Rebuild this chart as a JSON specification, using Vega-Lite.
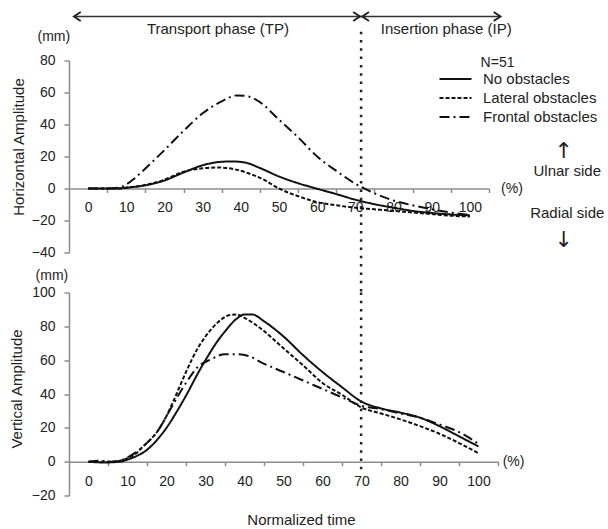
{
"$schema": "https://vega.github.io/schema/vega-lite/v6.json",
"padding": {"left": 9, "top": 7.5, "right": 0, "bottom": 0},
"background": "white",
"config": {"font": "Liberation Sans", "view": {"stroke": null}, "axis": {"grid": false, "domainColor": "#8c8c8c", "tickColor": "#8c8c8c", "domainWidth": 1.5, "tickWidth": 1.5, "labelColor": "#222", "labelFontSize": 14, "labelFont": "Liberation Sans", "titleFont": "Liberation Sans", "titleFontSize": 15, "titleFontWeight": "normal", "titleColor": "#222"}},
"datasets": {
"horiz": [
{"series":"No obstacles","t":0,"v":0},{"series":"No obstacles","t":5,"v":0},{"series":"No obstacles","t":8,"v":0},{"series":"No obstacles","t":10,"v":0.5},{"series":"No obstacles","t":15,"v":2},{"series":"No obstacles","t":20,"v":5},{"series":"No obstacles","t":25,"v":10},{"series":"No obstacles","t":30,"v":14.5},{"series":"No obstacles","t":35,"v":16.7},{"series":"No obstacles","t":38,"v":16.9},{"series":"No obstacles","t":41,"v":16.3},{"series":"No obstacles","t":45,"v":12.8},{"series":"No obstacles","t":50,"v":7.5},{"series":"No obstacles","t":55,"v":3.3},{"series":"No obstacles","t":59,"v":0.5},{"series":"No obstacles","t":65,"v":-3.5},{"series":"No obstacles","t":70,"v":-7},{"series":"No obstacles","t":75,"v":-9.8},{"series":"No obstacles","t":80,"v":-12},{"series":"No obstacles","t":85,"v":-14},{"series":"No obstacles","t":90,"v":-15.3},{"series":"No obstacles","t":95,"v":-16.2},{"series":"No obstacles","t":100,"v":-16.8},
{"series":"Lateral obstacles","t":0,"v":0},{"series":"Lateral obstacles","t":5,"v":0},{"series":"Lateral obstacles","t":8,"v":0},{"series":"Lateral obstacles","t":10,"v":0.5},{"series":"Lateral obstacles","t":15,"v":2.2},{"series":"Lateral obstacles","t":20,"v":5.5},{"series":"Lateral obstacles","t":25,"v":10.5},{"series":"Lateral obstacles","t":30,"v":12.6},{"series":"Lateral obstacles","t":34,"v":13.1},{"series":"Lateral obstacles","t":38,"v":12.2},{"series":"Lateral obstacles","t":42,"v":9.5},{"series":"Lateral obstacles","t":46,"v":5.5},{"series":"Lateral obstacles","t":50,"v":0},{"series":"Lateral obstacles","t":55,"v":-4.8},{"series":"Lateral obstacles","t":60,"v":-8.5},{"series":"Lateral obstacles","t":65,"v":-10.5},{"series":"Lateral obstacles","t":70,"v":-12},{"series":"Lateral obstacles","t":75,"v":-13},{"series":"Lateral obstacles","t":80,"v":-14},{"series":"Lateral obstacles","t":85,"v":-15},{"series":"Lateral obstacles","t":90,"v":-16},{"series":"Lateral obstacles","t":95,"v":-17},{"series":"Lateral obstacles","t":100,"v":-17.5},
{"series":"Frontal obstacles","t":0,"v":0},{"series":"Frontal obstacles","t":5,"v":0},{"series":"Frontal obstacles","t":8,"v":0.5},{"series":"Frontal obstacles","t":10,"v":2.5},{"series":"Frontal obstacles","t":12,"v":6},{"series":"Frontal obstacles","t":15,"v":12.5},{"series":"Frontal obstacles","t":20,"v":24},{"series":"Frontal obstacles","t":25,"v":36},{"series":"Frontal obstacles","t":30,"v":47},{"series":"Frontal obstacles","t":35,"v":54.5},{"series":"Frontal obstacles","t":39,"v":58.2},{"series":"Frontal obstacles","t":42,"v":57.5},{"series":"Frontal obstacles","t":45,"v":54},{"series":"Frontal obstacles","t":50,"v":43},{"series":"Frontal obstacles","t":55,"v":32},{"series":"Frontal obstacles","t":60,"v":20},{"series":"Frontal obstacles","t":65,"v":11},{"series":"Frontal obstacles","t":70,"v":3},{"series":"Frontal obstacles","t":75,"v":-3},{"series":"Frontal obstacles","t":80,"v":-7.5},{"series":"Frontal obstacles","t":85,"v":-10.5},{"series":"Frontal obstacles","t":90,"v":-13},{"series":"Frontal obstacles","t":95,"v":-15},{"series":"Frontal obstacles","t":100,"v":-16.5}
],
"vert": [
{"series":"No obstacles","t":0,"v":0},{"series":"No obstacles","t":4,"v":-0.5},{"series":"No obstacles","t":8,"v":0},{"series":"No obstacles","t":10,"v":1.2},{"series":"No obstacles","t":12,"v":3},{"series":"No obstacles","t":15,"v":7},{"series":"No obstacles","t":18,"v":14},{"series":"No obstacles","t":20,"v":20},{"series":"No obstacles","t":23,"v":31},{"series":"No obstacles","t":25,"v":39},{"series":"No obstacles","t":28,"v":52},{"series":"No obstacles","t":30,"v":60},{"series":"No obstacles","t":33,"v":71},{"series":"No obstacles","t":35,"v":77},{"series":"No obstacles","t":38,"v":84.5},{"series":"No obstacles","t":40,"v":87},{"series":"No obstacles","t":42,"v":87},{"series":"No obstacles","t":45,"v":83},{"series":"No obstacles","t":50,"v":74},{"series":"No obstacles","t":55,"v":63},{"series":"No obstacles","t":60,"v":53},{"series":"No obstacles","t":65,"v":44},{"series":"No obstacles","t":70,"v":35.5},{"series":"No obstacles","t":75,"v":31.5},{"series":"No obstacles","t":80,"v":29},{"series":"No obstacles","t":85,"v":26},{"series":"No obstacles","t":90,"v":21},{"series":"No obstacles","t":95,"v":15},{"series":"No obstacles","t":100,"v":9},
{"series":"Lateral obstacles","t":0,"v":0},{"series":"Lateral obstacles","t":5,"v":0},{"series":"Lateral obstacles","t":8,"v":0.5},{"series":"Lateral obstacles","t":10,"v":2},{"series":"Lateral obstacles","t":12,"v":4.5},{"series":"Lateral obstacles","t":14,"v":9},{"series":"Lateral obstacles","t":18,"v":19},{"series":"Lateral obstacles","t":20,"v":27},{"series":"Lateral obstacles","t":22,"v":37},{"series":"Lateral obstacles","t":25,"v":53},{"series":"Lateral obstacles","t":28,"v":67},{"series":"Lateral obstacles","t":30,"v":74},{"series":"Lateral obstacles","t":33,"v":82},{"series":"Lateral obstacles","t":36,"v":86.5},{"series":"Lateral obstacles","t":38,"v":87},{"series":"Lateral obstacles","t":40,"v":85},{"series":"Lateral obstacles","t":44,"v":79},{"series":"Lateral obstacles","t":50,"v":67},{"series":"Lateral obstacles","t":55,"v":57},{"series":"Lateral obstacles","t":60,"v":46.5},{"series":"Lateral obstacles","t":65,"v":39.5},{"series":"Lateral obstacles","t":70,"v":32},{"series":"Lateral obstacles","t":75,"v":28.5},{"series":"Lateral obstacles","t":80,"v":25},{"series":"Lateral obstacles","t":85,"v":21},{"series":"Lateral obstacles","t":90,"v":16.5},{"series":"Lateral obstacles","t":95,"v":11},{"series":"Lateral obstacles","t":100,"v":5},
{"series":"Frontal obstacles","t":0,"v":0},{"series":"Frontal obstacles","t":3,"v":0.5},{"series":"Frontal obstacles","t":6,"v":0},{"series":"Frontal obstacles","t":8,"v":0.5},{"series":"Frontal obstacles","t":10,"v":2.5},{"series":"Frontal obstacles","t":14,"v":9},{"series":"Frontal obstacles","t":18,"v":19},{"series":"Frontal obstacles","t":20,"v":27},{"series":"Frontal obstacles","t":22,"v":35},{"series":"Frontal obstacles","t":24,"v":43},{"series":"Frontal obstacles","t":26,"v":50},{"series":"Frontal obstacles","t":28,"v":56},{"series":"Frontal obstacles","t":31,"v":60},{"series":"Frontal obstacles","t":35,"v":63.5},{"series":"Frontal obstacles","t":38,"v":63.5},{"series":"Frontal obstacles","t":41,"v":62.5},{"series":"Frontal obstacles","t":44,"v":59},{"series":"Frontal obstacles","t":50,"v":53},{"series":"Frontal obstacles","t":55,"v":48},{"series":"Frontal obstacles","t":60,"v":43},{"series":"Frontal obstacles","t":65,"v":38},{"series":"Frontal obstacles","t":70,"v":33},{"series":"Frontal obstacles","t":75,"v":31},{"series":"Frontal obstacles","t":80,"v":28.5},{"series":"Frontal obstacles","t":85,"v":26},{"series":"Frontal obstacles","t":90,"v":22},{"series":"Frontal obstacles","t":95,"v":17.5},{"series":"Frontal obstacles","t":100,"v":10.5}
],
"annTop": [
{"kind":"vline","t":71.5,"v":98,"v2":-65},
{"kind":"arrow","t":-3.7,"t2":71.5,"v":107.5},
{"kind":"arrow","t":71.5,"t2":108,"v":107.5},
{"kind":"headL","t":-3.7,"v":107.5},
{"kind":"headR","t":71.2,"v":107.5},
{"kind":"headL","t":71.8,"v":107.5},
{"kind":"headR","t":108,"v":107.5},
{"kind":"label","t":34,"v":99.4,"label":"Transport phase (TP)"},
{"kind":"label","t":93.8,"v":99.4,"label":"Insertion phase (IP)"},
{"kind":"label","t":125.5,"v":10.8,"label":"Ulnar side"},
{"kind":"label","t":125.5,"v":-15.2,"label":"Radial side"},
{"kind":"small","t":111,"v":0,"label":"(%)"},
{"kind":"glyph","t":124.6,"v":23.7,"label":"↑"},
{"kind":"glyph","t":124.6,"v":-32,"label":"↓"},
{"kind":"mm","t":-4.7,"v":95,"label":"(mm)"},
{"kind":"nlabel","t":102.8,"v":78.7,"label":"N=51"}
],
"annBottom": [
{"kind":"vline","t":69.9,"v":100,"v2":-7.5},
{"kind":"small","t":109,"v":0,"label":"(%)"},
{"kind":"mm","t":-5.2,"v":109.5,"label":"(mm)"}
]
},
"spacing": 40,
"bounds": "flush",
"resolve": {"legend": {"strokeDash": "independent"}},
"vconcat": [
{
"width": 420, "height": 192,
"encoding": {
 "x": {"field": "t", "type": "quantitative", "scale": {"domain": [-5, 105], "nice": false, "zero": false},
  "axis": {"orient": "bottom", "offset": -64, "values": [0,10,20,30,40,50,60,70,80,90,100], "tickOffset": 19.09, "labelOffset": -19.09, "tickSize": 4, "labelPadding": 8, "labelFlush": false, "labelOverlap": false, "title": null}},
 "y": {"field": "v", "type": "quantitative", "scale": {"domain": [-40, 80], "nice": false, "zero": false},
  "axis": {"values": [-40,-20,0,20,40,60,80], "tickSize": 5, "labelPadding": 9, "title": "Horizontal Amplitude", "titleAngle": -90, "titleX": -51, "titleY": 86, "titleAlign": "center", "titleBaseline": "middle"}}
},
"layer": [
 {"data": {"name": "horiz"}, "mark": {"type": "line", "interpolate": "monotone", "color": "#111", "strokeWidth": 2},
  "encoding": {"strokeDash": {"field": "series", "type": "nominal", "scale": {"domain": ["No obstacles","Lateral obstacles","Frontal obstacles"], "range": [[1,0],[4,2],[10,4,2,4]]},
   "legend": {"orient": "none", "legendX": 379, "legendY": 11, "title": null, "symbolType": "M-3.2,0H3.2", "symbolSize": 100, "symbolStrokeWidth": 2, "symbolStrokeColor": "#111", "labelFontSize": 15, "labelOffset": 20, "rowPadding": 3, "labelColor": "#222", "labelFont": "Liberation Sans"}}}},
 {"data": {"name": "annTop"}, "transform": [{"filter": "datum.kind === 'vline'"}], "mark": {"type": "rule", "strokeDash": [2.5, 5.8], "strokeWidth": 2.5, "color": "#222"}, "encoding": {"y2": {"field": "v2"}}},
 {"data": {"name": "annTop"}, "transform": [{"filter": "datum.kind === 'arrow'"}], "mark": {"type": "rule", "strokeWidth": 1.5, "color": "#333"}, "encoding": {"x2": {"field": "t2"}}},
 {"data": {"name": "annTop"}, "transform": [{"filter": "datum.kind === 'headL'"}], "mark": {"type": "point", "shape": "M1.5,-1L0,0L1.5,1", "filled": false, "size": 81, "strokeWidth": 2, "color": "#222", "opacity": 1}},
 {"data": {"name": "annTop"}, "transform": [{"filter": "datum.kind === 'headR'"}], "mark": {"type": "point", "shape": "M-1.5,-1L0,0L-1.5,1", "filled": false, "size": 81, "strokeWidth": 2, "color": "#222", "opacity": 1}},
 {"data": {"name": "annTop"}, "transform": [{"filter": "datum.kind === 'label'"}], "mark": {"type": "text", "fontSize": 15, "align": "center", "baseline": "middle", "color": "#222"}, "encoding": {"text": {"field": "label"}}},
 {"data": {"name": "annTop"}, "transform": [{"filter": "datum.kind === 'small'"}], "mark": {"type": "text", "fontSize": 14, "align": "center", "baseline": "middle", "color": "#222"}, "encoding": {"text": {"field": "label"}}},
 {"data": {"name": "annTop"}, "transform": [{"filter": "datum.kind === 'glyph'"}], "mark": {"type": "text", "font": "DejaVu Sans", "fontSize": 22, "align": "center", "baseline": "middle", "color": "#222"}, "encoding": {"text": {"field": "label"}}},
 {"data": {"name": "annTop"}, "transform": [{"filter": "datum.kind === 'mm'"}], "mark": {"type": "text", "fontSize": 14, "align": "right", "baseline": "middle", "color": "#222"}, "encoding": {"text": {"field": "label"}}},
 {"data": {"name": "annTop"}, "transform": [{"filter": "datum.kind === 'nlabel'"}], "mark": {"type": "text", "fontSize": 14, "align": "left", "baseline": "middle", "color": "#222"}, "encoding": {"text": {"field": "label"}}}
]
},
{
"width": 429, "height": 203,
"encoding": {
 "x": {"field": "t", "type": "quantitative", "scale": {"domain": [-5, 105], "nice": false, "zero": false},
  "axis": {"orient": "bottom", "offset": -33.8, "values": [0,10,20,30,40,50,60,70,80,90,100], "tickOffset": 19.5, "labelOffset": -19.5, "tickSize": 4, "labelPadding": 9, "labelFlush": false, "labelOverlap": false, "title": "Normalized time", "titleX": 232, "titleY": 58, "titleBaseline": "middle", "titleAlign": "center"}},
 "y": {"field": "v", "type": "quantitative", "scale": {"domain": [-20, 100], "nice": false, "zero": false},
  "axis": {"values": [-20,0,20,40,60,80,100], "tickSize": 5, "labelPadding": 9, "title": "Vertical Amplitude", "titleAngle": -90, "titleX": -53, "titleY": 96, "titleAlign": "center", "titleBaseline": "middle"}}
},
"layer": [
 {"data": {"name": "vert"}, "mark": {"type": "line", "interpolate": "monotone", "color": "#111", "strokeWidth": 2},
  "encoding": {"strokeDash": {"field": "series", "type": "nominal", "scale": {"domain": ["No obstacles","Lateral obstacles","Frontal obstacles"], "range": [[1,0],[4,2],[10,4,2,4]]}, "legend": null}}},
 {"data": {"name": "annBottom"}, "transform": [{"filter": "datum.kind === 'vline'"}], "mark": {"type": "rule", "strokeDash": [2.5, 5.8], "strokeWidth": 2.5, "color": "#222"}, "encoding": {"y2": {"field": "v2"}}},
 {"data": {"name": "annBottom"}, "transform": [{"filter": "datum.kind === 'small'"}], "mark": {"type": "text", "fontSize": 14, "align": "center", "baseline": "middle", "color": "#222"}, "encoding": {"text": {"field": "label"}}},
 {"data": {"name": "annBottom"}, "transform": [{"filter": "datum.kind === 'mm'"}], "mark": {"type": "text", "fontSize": 14, "align": "right", "baseline": "middle", "color": "#222"}, "encoding": {"text": {"field": "label"}}}
]
}
]
}
